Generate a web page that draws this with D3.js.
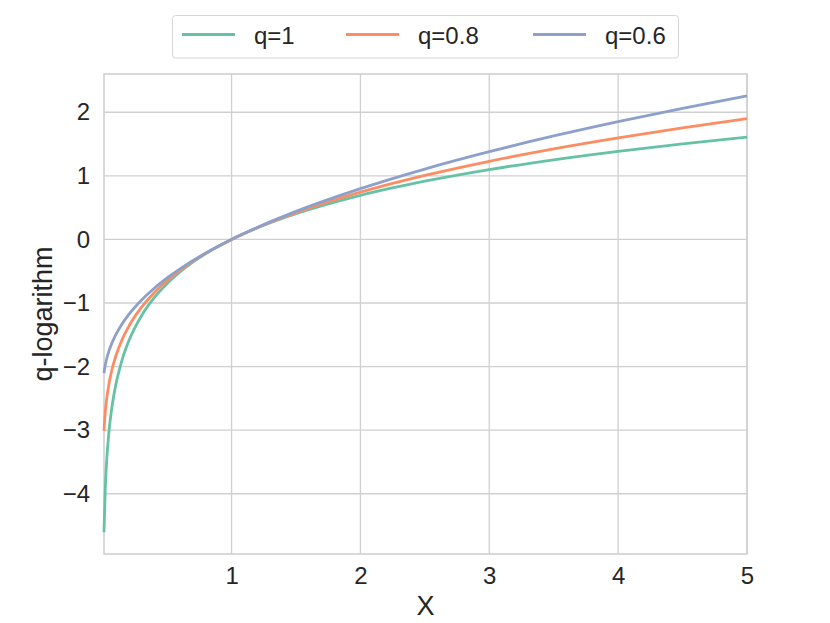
<!DOCTYPE html>
<html><head><meta charset="utf-8">
<script src="https://cdn.jsdelivr.net/npm/d3@7"></script>
<style>body{margin:0;background:#fff;} svg{display:block;font-family:"Liberation Sans",Arial,sans-serif;}</style>
</head><body>
<svg id="c" width="830" height="623"></svg>
<script>
const xValues = [0.01,0.02,0.03,0.05,0.07,0.1,0.15,0.2,0.3,0.4,0.5,0.6,0.8,1.0,1.25,1.5,2,2.5,3,3.5,4,4.5,5];
const q1Values  = [-4.605,-3.912,-3.507,-2.996,-2.659,-2.303,-1.897,-1.609,-1.204,-0.916,-0.693,-0.511,-0.223,0,0.223,0.405,0.693,0.916,1.099,1.253,1.386,1.504,1.609];
const q08Values = [-3.010,-2.713,-2.520,-2.254,-2.062,-1.845,-1.578,-1.376,-1.070,-0.838,-0.647,-0.486,-0.218,0,0.228,0.422,0.743,1.006,1.229,1.424,1.597,1.755,1.899];
const q06Values = [-2.104,-1.977,-1.885,-1.746,-1.637,-1.505,-1.329,-1.187,-0.956,-0.767,-0.605,-0.462,-0.213,0,0.233,0.441,0.799,1.107,1.380,1.627,1.853,2.063,2.259];
const seriesNames = ["q=1","q=0.8","q=0.6"];
const xTicks = [1,2,3,4,5];
const yTicks = [-4,-3,-2,-1,0,1,2];

const colors = ["#66c2a5","#fc8d62","#8da0cb"];
const series = [q1Values,q08Values,q06Values];
const svg = d3.select("#c");
const L=104,R=747,T=74,B=554;
const x = d3.scaleLinear().domain([0.01,5]).range([L,R]);
const y = d3.scaleLinear().domain([-4.948,2.602]).range([B,T]);
const grid = "#d0d0d0", txt="#262626";

// grid
svg.append("g").selectAll("line").data(xTicks).join("line")
  .attr("x1",d=>x(d)).attr("x2",d=>x(d)).attr("y1",T).attr("y2",B)
  .attr("stroke",grid).attr("stroke-width",1.3);
svg.append("g").selectAll("line").data(yTicks).join("line")
  .attr("y1",d=>y(d)).attr("y2",d=>y(d)).attr("x1",L).attr("x2",R)
  .attr("stroke",grid).attr("stroke-width",1.3);
// spines
svg.append("rect").attr("x",L).attr("y",T).attr("width",R-L).attr("height",B-T)
  .attr("fill","none").attr("stroke",grid).attr("stroke-width",1.6);

// axes labels via d3 axes
const xAxis = svg.append("g").attr("transform",`translate(0,${B})`)
  .call(d3.axisBottom(x).tickValues(xTicks).tickSize(0).tickPadding(13).tickFormat(d3.format("d")));
const yAxis = svg.append("g").attr("transform",`translate(${L},0)`)
  .call(d3.axisLeft(y).tickValues(yTicks).tickSize(0).tickPadding(14).tickFormat(d=>d<0?"\u2212"+Math.abs(d):d));
[xAxis,yAxis].forEach(a=>{a.select(".domain").remove();
  a.selectAll("text").attr("font-size",24).attr("fill",txt).attr("font-family","'Liberation Sans',Arial,sans-serif");});

svg.append("text").attr("x",(L+R)/2).attr("y",615).attr("text-anchor","middle")
  .attr("font-size",27).attr("fill",txt).text("X");
svg.append("text").attr("transform",`translate(52,${(T+B)/2}) rotate(-90)`).attr("text-anchor","middle")
  .attr("font-size",27).attr("fill",txt).text("q-logarithm");

// lines
const line = d3.line().x((d,i)=>x(xValues[i])).y(d=>y(d)).curve(d3.curveMonotoneX);
svg.append("g").selectAll("path").data(series).join("path")
  .attr("d",line).attr("fill","none").attr("stroke",(d,i)=>colors[i]).attr("stroke-width",2.8)
  .attr("stroke-linejoin","round").attr("stroke-linecap","butt");

// legend
const lg = svg.append("g");
lg.append("rect").attr("x",172.5).attr("y",15.5).attr("width",506).attr("height",42.5).attr("rx",3)
  .attr("fill","#fff").attr("stroke","#d6d6d6").attr("stroke-width",1);
const lx=[182,346,533];
seriesNames.forEach((n,i)=>{
  lg.append("line").attr("x1",lx[i]).attr("x2",lx[i]+53).attr("y1",34.5).attr("y2",34.5)
    .attr("stroke",colors[i]).attr("stroke-width",2.8);
  lg.append("text").attr("x",lx[i]+72).attr("y",44).attr("font-size",24).attr("fill",txt).text(n);
});
</script>
</body></html>
